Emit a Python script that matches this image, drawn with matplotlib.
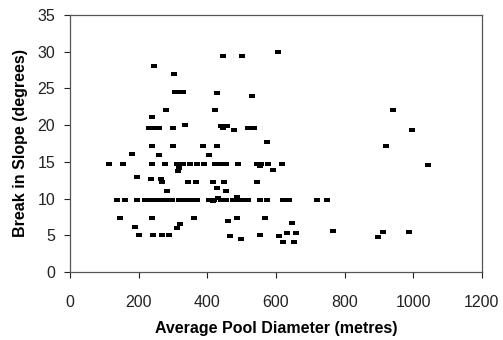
import matplotlib.pyplot as plt
from matplotlib.path import Path

# pool diameter (m) and break in slope (deg)
diameter = [245, 304, 447, 500, 606,
            305, 318, 330, 427, 531,
            280, 422, 941, 238,
            230, 245, 260, 299, 336,
            440, 458, 445, 478, 518, 535, 996,
            575, 240, 300, 388, 429, 921,
            180, 260, 406,
            114, 154, 240, 278, 311, 330, 350, 369, 391, 422, 440, 456, 490,
            546, 558, 576, 617, 1044,
            318, 314, 592, 553,
            196, 235, 265, 267,
            345, 366, 418, 449, 546,
            429, 456, 284,
            136, 161, 194, 218, 235, 252, 267, 280, 297, 318, 335, 352, 370,
            405, 420, 440, 455, 475, 490, 505, 520, 555, 575, 622, 638, 721, 750,
            432, 487, 418,
            146, 240, 362, 487, 568, 461, 646,
            189, 311, 320,
            202, 243, 267, 290, 466, 497, 553, 610, 633, 660, 765, 911, 897, 987,
            621, 652]
slope = [28.0, 27.0, 29.4, 29.4, 30.0,
         24.5, 24.5, 24.5, 24.4, 24.0,
         22.1, 22.1, 22.0, 21.1,
         19.6, 19.6, 19.6, 19.6, 20.0,
         19.9, 19.9, 19.6, 19.4, 19.6, 19.6, 19.4,
         17.7, 17.2, 17.2, 17.2, 17.2, 17.1,
         16.0, 15.9, 15.9,
         14.7, 14.7, 14.7, 14.7, 14.7, 14.7, 14.7, 14.7, 14.7, 14.7, 14.7, 14.7, 14.7,
         14.7, 14.7, 14.7, 14.7, 14.6,
         14.1, 13.8, 13.9, 14.5,
         13.0, 12.7, 12.7, 12.3,
         12.25, 12.25, 12.25, 12.25, 12.25,
         11.4, 11.0, 11.0,
         9.85, 9.85, 9.85, 9.85, 9.85, 9.85, 9.85, 9.85, 9.85, 9.85, 9.85, 9.85, 9.85,
         9.85, 9.85, 9.85, 9.85, 9.85, 9.85, 9.85, 9.85, 9.85, 9.85, 9.75, 9.75, 9.75, 9.75,
         10.1, 10.2, 9.6,
         7.35, 7.35, 7.35, 7.35, 7.35, 7.0, 6.7,
         6.1, 6.0, 6.5,
         5.0, 5.0, 5.0, 5.0, 4.9, 4.5, 5.1, 4.9, 5.3, 5.35, 5.6, 5.4, 4.8, 5.5,
         4.1, 4.1]

plt.rcParams['font.family'] = ['Liberation Sans', 'DejaVu Sans']

# short flat dash marker
dash = Path([(-1, -0.55), (1, -0.55), (1, 0.55), (-1, 0.55), (-1, -0.55)],
            [Path.MOVETO, Path.LINETO, Path.LINETO, Path.LINETO, Path.CLOSEPOLY])

fig = plt.figure(figsize=(5.03, 3.40), dpi=100)
ax = fig.add_axes([0.139, 0.2, 0.819, 0.756])
ax.plot(diameter, slope, linestyle='none', marker=dash, markersize=4.8,
        color='black', markeredgewidth=0)

ax.set_xlim(0, 1200)
ax.set_ylim(0, 35)
ax.set_xticks(range(0, 1201, 200))
ax.set_yticks(range(0, 36, 5))
ax.tick_params(direction='out', length=4.5, width=0.8, labelsize=11.5, colors='#222222')
ax.tick_params(axis='x', pad=12)
ax.tick_params(axis='y', pad=6)
for s in ax.spines.values():
    s.set_color('#555555')
    s.set_linewidth(0.9)

ax.set_xlabel('Average Pool Diameter (metres)', fontsize=11.5, fontweight='bold', labelpad=8)
ax.set_ylabel('Break in Slope (degrees)', fontsize=11.5, fontweight='bold', labelpad=7)

fig.savefig('out.png', dpi=100)
